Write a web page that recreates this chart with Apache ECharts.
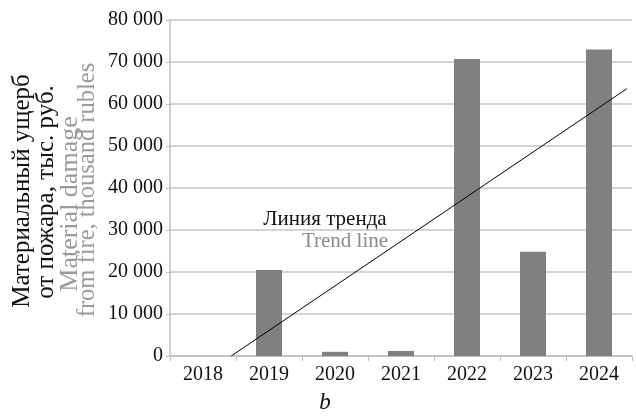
<!DOCTYPE html>
<html><head><meta charset="utf-8">
<script src="https://cdn.jsdelivr.net/npm/echarts@6/dist/echarts.min.js"></script>
<style>html,body{margin:0;padding:0;background:#fff}#c{width:636px;height:418px}</style>
</head><body><div id="c"></div>
<script>
const categories = ['2018','2019','2020','2021','2022','2023','2024'];
const damage = [0, 20500, 1000, 1200, 70700, 24800, 73000];
const yTicks = {min: 0, max: 80000, interval: 10000};

// linear trend (least squares) over category index 1..n
const n = damage.length;
const xs = damage.map((_, i) => i + 1);
const mx = xs.reduce((a, b) => a + b, 0) / n;
const my = damage.reduce((a, b) => a + b, 0) / n;
let sxy = 0, sxx = 0;
for (let i = 0; i < n; i++) { sxy += (xs[i] - mx) * (damage[i] - my); sxx += (xs[i] - mx) ** 2; }
const slope = sxy / sxx, icpt = my - slope * mx;
const f = x => icpt + slope * x;
const x0 = -icpt / slope;
const x1 = n + 0.42;
const trend = [[x0, 0], [x1, f(x1)]];

const serif = '"Liberation Serif","Times New Roman",serif';
const chart = echarts.init(document.getElementById('c'));
chart.setOption({
  animation: false,
  grid: {left: 170, right: 4, top: 20, bottom: 62},
  xAxis: [{
    type: 'category', data: categories,
    axisLine: {lineStyle: {color: '#bfbfbf', width: 1.5}},
    axisTick: {show: true, length: 5, lineStyle: {color: '#bfbfbf'}},
    axisLabel: {color: '#111', fontFamily: serif, fontSize: 20, margin: 9}
  }, {
    type: 'value', min: 0.5, max: n + 0.5, show: false
  }],
  yAxis: {
    type: 'value', min: yTicks.min, max: yTicks.max, interval: yTicks.interval,
    axisLine: {show: true, lineStyle: {color: '#bfbfbf', width: 1.5}},
    axisTick: {show: true, length: 4, lineStyle: {color: '#bfbfbf'}},
    splitLine: {lineStyle: {color: '#c4c4c4', width: 1.5}},
    axisLabel: {color: '#111', fontFamily: serif, fontSize: 20, margin: 7,
      formatter: v => String(v).replace(/\B(?=(\d{3})+(?!\d))/g, ' ')}
  },
  series: [{
    type: 'bar', data: damage, barWidth: 26, xAxisIndex: 0,
    itemStyle: {color: '#808083'}
  }, {
    type: 'line', xAxisIndex: 1, data: trend, symbol: 'none',
    lineStyle: {color: '#000', width: 1}, silent: true
  }],
  graphic: [
    {type: 'text', x: 22, y: 191, rotation: Math.PI / 2,
      style: {text: 'Материальный ущерб', font: '25px ' + serif, fill: '#111', textAlign: 'center', textVerticalAlign: 'middle'}},
    {type: 'text', x: 46, y: 192, rotation: Math.PI / 2,
      style: {text: 'от пожара, тыс. руб.', font: '25px ' + serif, fill: '#111', textAlign: 'center', textVerticalAlign: 'middle'}},
    {type: 'text', x: 70, y: 204, rotation: Math.PI / 2,
      style: {text: 'Material damage', font: '26px ' + serif, fill: '#9a9a9a', textAlign: 'center', textVerticalAlign: 'middle'}},
    {type: 'text', x: 88, y: 190, rotation: Math.PI / 2,
      style: {text: 'from fire, thousand rubles', font: '24.5px ' + serif, fill: '#9a9a9a', textAlign: 'center', textVerticalAlign: 'middle'}},
    {type: 'text', x: 325, y: 219,
      style: {text: 'Линия тренда', font: '21px ' + serif, fill: '#111', textAlign: 'center', textVerticalAlign: 'middle'}},
    {type: 'text', x: 345, y: 241,
      style: {text: 'Trend line', font: '21px ' + serif, fill: '#8a8a8a', textAlign: 'center', textVerticalAlign: 'middle'}},
    {type: 'text', x: 325, y: 403,
      style: {text: 'b', font: 'italic 23px ' + serif, fill: '#111', textAlign: 'center', textVerticalAlign: 'middle'}}
  ]
});
</script></body></html>
